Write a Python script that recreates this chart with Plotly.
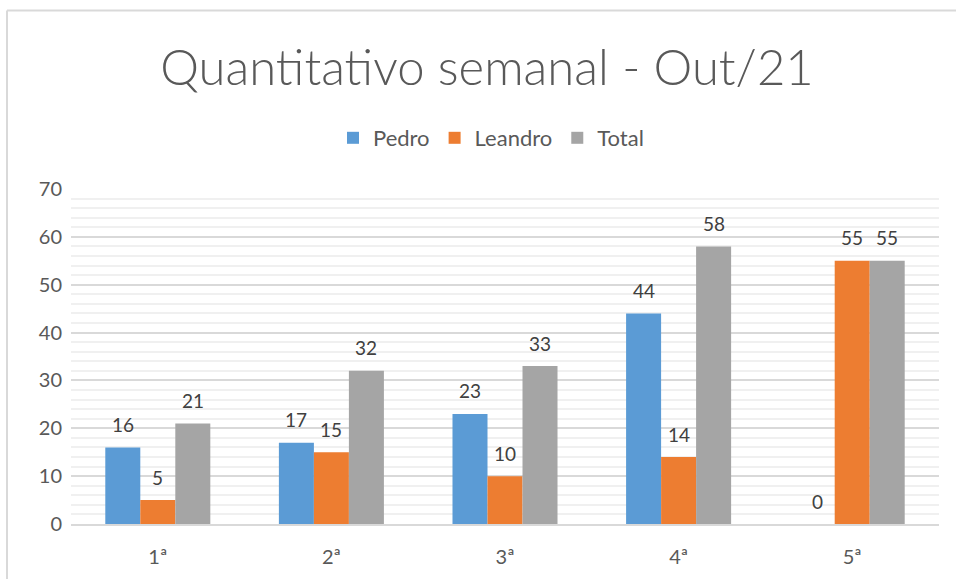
import plotly.graph_objects as go

categories = ["1ª", "2ª", "3ª", "4ª", "5ª"]
pedro = [16, 17, 23, 44, 0]
leandro = [5, 15, 10, 14, 55]
total = [21, 32, 33, 58, 55]
series = [("Pedro", pedro, "#5B9BD5"), ("Leandro", leandro, "#ED7D31"), ("Total", total, "#A5A5A5")]
y_ticks = [0, 10, 20, 30, 40, 50, 60, 70]

FONT = "Lato"
W, H = 956, 579
ML, MR, MT, MB = 71, 17, 189, 55
PW, PH = W - ML - MR, H - MT - MB
BARGAP = 0.395
bar_w = PW / len(categories) * (1 - BARGAP) / len(series)

fig = go.Figure()
for name, vals, col in series:
    fig.add_trace(go.Bar(name=name, x=categories, y=vals, marker=dict(color=col, line=dict(width=0))))

annotations = []
for i, (name, vals, col) in enumerate(series):
    for c, v in zip(categories, vals):
        annotations.append(dict(x=c, y=v, xref="x", yref="y", text=str(v), showarrow=False,
                                xshift=(i - 1) * bar_w, yshift=23, yanchor="middle",
                                font=dict(family=FONT, size=19, color="#404040")))

def px2paper_x(px):
    return (px - ML) / PW

def px2paper_y(py):
    return 1 - (py - MT) / PH

shapes = [
    dict(type="line", xref="paper", yref="paper", x0=px2paper_x(7), x1=px2paper_x(7),
         y0=px2paper_y(10.5), y1=px2paper_y(600), line=dict(color="#d9d9d9", width=2)),
    dict(type="line", xref="paper", yref="paper", x0=px2paper_x(7), x1=px2paper_x(980),
         y0=px2paper_y(10.5), y1=px2paper_y(10.5), line=dict(color="#d9d9d9", width=2)),
]

fig.update_layout(
    width=W, height=H,
    margin=dict(l=ML, r=MR, t=MT, b=MB, autoexpand=False),
    paper_bgcolor="white", plot_bgcolor="white",
    barmode="group", bargap=BARGAP, bargroupgap=0,
    title=dict(text="Quantitativo semanal - Out/21", x=487 / W, xanchor="center", xref="container",
               y=1 - 68 / H, yanchor="middle", yref="container",
               font=dict(family=FONT, size=49, color="#595959", weight=300)),
    legend=dict(orientation="h", x=px2paper_x(491), xanchor="center", y=px2paper_y(138), yanchor="middle",
                font=dict(family=FONT, size=22, color="#595959"), itemwidth=30,
                tracegroupgap=0),
    annotations=annotations,
    shapes=shapes,
    xaxis=dict(showgrid=False, showline=True, linecolor="#d9d9d9", linewidth=2,
               tickfont=dict(family=FONT, size=20, color="#595959"), ticks="",
               ticklabelstandoff=14, automargin=False),
    yaxis=dict(range=[0, 70], tickvals=y_ticks, showgrid=True, gridcolor="#d9d9d9", gridwidth=1.5,
               minor=dict(dtick=2, showgrid=True, gridcolor="#f0f0f0", gridwidth=1.5),
               zeroline=False, showline=False, automargin=False,
               tickfont=dict(family=FONT, size=20, color="#595959"), ticks="",
               ticklabelstandoff=8),
)

fig.write_html("out.html", config={"displayModeBar": False},
               post_script="document.body.style.margin='0';")
